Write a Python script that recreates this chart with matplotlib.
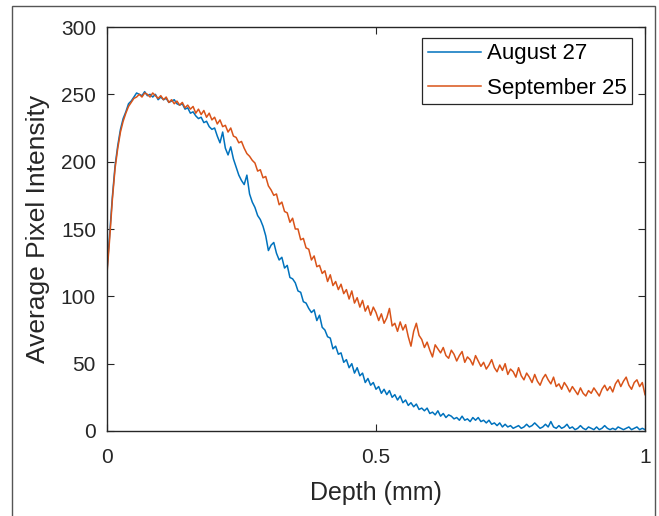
import numpy as np
import matplotlib
matplotlib.use("Agg")
import matplotlib.pyplot as plt
from matplotlib.patches import Rectangle

# average pixel intensity, every 0.005 mm
aug27 = [119, 146, 174, 197, 212, 224, 232, 237, 243, 245,
         248, 251, 250, 249, 252, 249, 250, 248, 250, 246,
         248, 246, 247, 244, 245, 246, 243, 242, 243, 239,
         240, 236, 237, 234, 232, 233, 229, 230, 226, 224,
         225, 219, 214, 222, 210, 205, 211, 202, 196, 190,
         186, 183, 190, 176, 170, 166, 160, 157, 152, 145,
         134, 138, 140, 132, 127, 129, 121, 123, 114, 113,
         110, 104, 103, 96, 95, 91, 88, 90, 82, 86,
         77, 75, 70, 69, 61, 63, 57, 58, 51, 53,
         47, 50, 43, 47, 41, 43, 36, 39, 34, 36,
         31, 33, 28, 31, 27, 30, 25, 27, 23, 26,
         21, 23, 19, 21, 18, 20, 16, 17, 15, 17,
         13, 14, 12, 15, 11, 13, 10, 12, 11, 9,
         10, 8, 11, 8, 9, 7, 10, 8, 10, 7,
         8, 6, 8, 5, 6, 4, 6, 3, 5, 3,
         4, 2, 3, 4, 2, 3, 5, 3, 4, 6,
         4, 2, 3, 5, 3, 7, 3, 2, 4, 2,
         3, 5, 2, 3, 1, 2, 4, 2, 1, 3,
         2, 1, 3, 1, 2, 4, 2, 1, 2, 1,
         3, 2, 1, 2, 3, 1, 2, 3, 1, 2,
         1]

sep25 = [117, 143, 172, 195, 210, 222, 230, 236, 241, 244,
         247, 248, 250, 248, 251, 250, 248, 251, 249, 247,
         249, 246, 248, 244, 246, 243, 245, 242, 244, 240,
         242, 239, 241, 236, 239, 235, 238, 233, 236, 231,
         233, 228, 231, 226, 227, 222, 225, 219, 218, 214,
         215, 210, 206, 204, 201, 199, 193, 194, 188, 189,
         182, 179, 175, 176, 168, 170, 163, 162, 155, 158,
         150, 150, 142, 143, 136, 135, 127, 130, 122, 123,
         117, 119, 111, 116, 108, 111, 105, 109, 102, 105,
         98, 104, 95, 99, 92, 97, 89, 93, 86, 92,
         88, 82, 87, 80, 84, 91, 78, 80, 74, 81,
         75, 79, 70, 63, 74, 80, 71, 68, 62, 66,
         60, 55, 64, 61, 58, 62, 56, 54, 60, 57,
         52, 56, 59, 51, 55, 53, 49, 56, 52, 48,
         51, 46, 49, 53, 47, 44, 49, 45, 50, 42,
         46, 44, 40, 47, 41, 38, 43, 40, 36, 42,
         37, 34, 39, 42, 38, 35, 40, 33, 35, 31,
         36, 33, 29, 33, 30, 27, 32, 28, 26, 30,
         28, 32, 29, 26, 31, 34, 30, 33, 29, 35,
         38, 33, 37, 40, 34, 31, 36, 38, 33, 36,
         27]

depth = np.linspace(0, 1, len(aug27))

fig = plt.figure(figsize=(6.59, 5.16), dpi=100)
plt.rcParams['font.family'] = 'Liberation Sans'

# thin frame round the whole picture
fig.patches.append(Rectangle((12 / 659, -0.01), (655 - 12) / 659, 1 - 6 / 516 + 0.01,
                             transform=fig.transFigure, fill=False,
                             edgecolor='#555555', lw=1.0))

ax = fig.add_axes([107 / 659, 1 - 431 / 516, (645 - 107) / 659, (431 - 27) / 516])
ax.plot(depth, aug27, color='#0072BD', lw=1.1, label='August 27')
ax.plot(depth, sep25, color='#D95319', lw=1.1, label='September 25')

ax.set_xlim(0, 1)
ax.set_ylim(0, 300)
ax.set_xticks([0, 0.5, 1])
ax.set_xticklabels(['0', '0.5', '1'])
ax.set_yticks([0, 50, 100, 150, 200, 250, 300])
ax.tick_params(direction='in', top=True, right=True, length=5, width=0.8,
               labelsize=15, colors='#262626', pad=8)
ax.tick_params(axis='x', pad=12)
for s in ax.spines.values():
    s.set_color('#262626')
    s.set_linewidth(1.0)

ax.set_xlabel('Depth (mm)', fontsize=18, color='#262626', labelpad=10)
ax.set_ylabel('Average Pixel Intensity', fontsize=19, color='#262626', labelpad=8)

leg = ax.legend(loc='upper right', bbox_to_anchor=(0.976, 0.973), fontsize=16,
                fancybox=False, framealpha=1, edgecolor='#262626',
                handlelength=2.4, handletextpad=0.25, borderpad=0.25,
                labelspacing=0.6, borderaxespad=0)
leg.get_frame().set_linewidth(0.9)

fig.savefig('out.png', dpi=100)
plt.close()
